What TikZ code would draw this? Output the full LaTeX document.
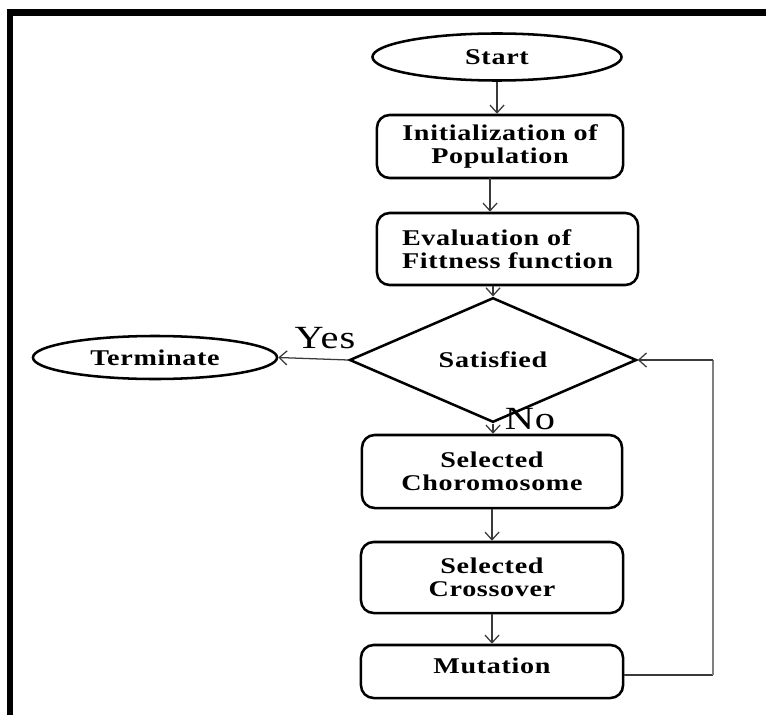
\documentclass[tikz,border=0pt]{standalone}
\usepackage{fontspec}
\setmainfont{Liberation Serif}
\newfontfamily\wideserif[FakeStretch=1.25,LetterSpace=3]{Liberation Serif}
\usepackage{tikz}
\usetikzlibrary{shapes.geometric, arrows.meta, positioning, calc}
\definecolor{framedark}{HTML}{000000}
\definecolor{linegray}{HTML}{3A3A3A}
\definecolor{loopgray}{HTML}{7F7F7F}

\begin{document}
\begin{tikzpicture}[
    x=0.025cm, y=-0.025cm,
    terminal/.style={
        draw,
        ellipse,
        line width=1.8pt,
        font=\wideserif\bfseries\fontsize{16}{16.5}\selectfont,
        inner sep=0pt
    },
    stepbox/.style={
        draw,
        rounded corners=9pt,
        line width=1.8pt,
        align=center,
        font=\wideserif\bfseries\fontsize{16}{16.5}\selectfont,
        inner sep=0pt
    },
    decision/.style={
        draw,
        diamond,
        line width=1.8pt,
        font=\wideserif\bfseries\fontsize{16}{16.5}\selectfont,
        inner sep=0pt
    },
    flow/.style={
        draw=linegray,
        line width=0.9pt,
        -{Straight Barb[length=5.5pt, width=10pt]}
    },
    answer/.style={
        font=\wideserif\fontsize{23}{24}\selectfont
    }
]
\useasboundingbox (0,0) rectangle (766,715);

% Frame (only top and left edges visible)
\draw[framedark, line width=4.3pt] (10,715) -- (10,12.5) -- (766,12.5);

% Main column
\node[terminal, minimum width=6.225cm, minimum height=1.175cm] (start) at (497,57) {Start};
\node[stepbox, minimum width=6.15cm, minimum height=1.575cm] (init) at (500,146.5) {Initialization of\\Population};
\node[stepbox, minimum width=6.525cm, minimum height=1.8cm, align=left] (eval) at (507.5,249) {Evaluation of\\Fittness function};
\node[decision, minimum width=7.175cm, minimum height=2cm] (sat) at (493,360) {Satisfied};
\node[terminal, minimum width=6.1cm, minimum height=1.075cm] (term) at (155,357.5) {Terminate};
\node[stepbox, minimum width=6.5cm, minimum height=1.825cm] (chrom) at (492,471.5) {Selected\\Choromosome};
\node[stepbox, minimum width=6.55cm, minimum height=1.775cm] (cross) at (492,577.5) {Selected\\Crossover};
\node[stepbox, minimum width=6.55cm, minimum height=1.325cm, text depth=0.3cm] (mut) at (492,671.5) {Mutation};

% Arrows
\coordinate (initout) at (490,178);
\draw[flow] (start.south) -- (start.south |- init.north);
\draw[flow] (initout) -- (initout |- eval.north);
\draw[flow] (sat.north |- eval.south) -- (sat.north);
\draw[flow] (sat.south) -- (sat.south |- chrom.north);
\draw[flow] (chrom.south) -- (cross.north);
\draw[flow] (cross.south) -- (mut.north);
\draw[flow] (sat.west) -- (term.east);

% Loop back
\coordinate (loopbot) at (713,675);
\coordinate (looptop) at (713,360);
\draw[linegray, line width=0.9pt] (mut.east |- loopbot) -- (loopbot);
\draw[loopgray, line width=1.8pt] (loopbot) -- (looptop);
\draw[flow] (looptop) -- (sat.east);

% Labels
\node[answer] (yes) at (325,338) {Yes};
\node[answer] (no) at (530,419) {No};

\end{tikzpicture}
\end{document}
